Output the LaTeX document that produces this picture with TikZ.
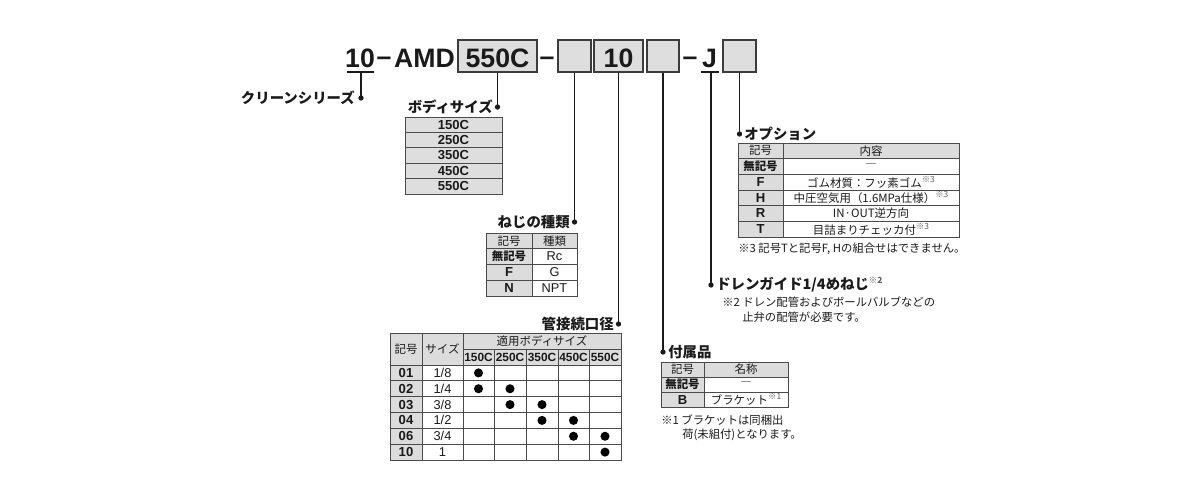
\documentclass[tikz,border=0pt]{standalone}
\usepackage{fontspec}
\setmainfont{Liberation Sans}
\newfontfamily\jp{Noto Sans CJK JP}
\definecolor{boxfill}{HTML}{DEDEDE}
\definecolor{hdr}{HTML}{DCDCDC}
\definecolor{grid}{HTML}{4A4A4A}
\definecolor{ink}{HTML}{1A1A1A}
\definecolor{supc}{HTML}{606060}
\tikzset{
  big/.style={font=\fontsize{20}{20}\selectfont\bfseries, inner sep=0pt, text=ink},
  codebox/.style={draw=ink!85, fill=boxfill, line width=0.9pt, minimum height=24pt, inner sep=0pt},
  lead/.style={draw=ink, line width=0.9pt},
  leaddot/.style={circle, fill=ink, inner sep=0pt, minimum size=4pt},
  lbl/.style={font=\jp\bfseries\fontsize{10.8}{12}\selectfont, inner sep=0pt, text=ink},
  cj/.style={font=\jp\fontsize{8.6}{10}\selectfont, inner sep=0pt, text=ink},
  cjb/.style={font=\jp\bfseries\fontsize{8.6}{10}\selectfont, inner sep=0pt, text=ink},
  lb/.style={font=\bfseries\fontsize{9.8}{10}\selectfont, inner sep=0pt, text=ink},
  lr/.style={font=\fontsize{9.6}{10}\selectfont, inner sep=0pt, text=ink},
  note/.style={font=\jp\fontsize{8.5}{11}\selectfont, inner sep=0pt, text=ink},
  tbl/.style={draw=grid, line width=0.6pt},
  bul/.style={circle, fill=black, inner sep=0pt, minimum size=6.8pt},
}
\newcommand{\supn}[1]{\raisebox{0.42em}{\fontsize{6.3}{6}\selectfont\color{supc}#1}}
\newcommand{\nodash}{\raisebox{-0.25em}{―}}
\begin{document}
\begin{tikzpicture}[x=0.75pt,y=-0.75pt]
\useasboundingbox (0,0) rectangle (1198,500);

% ---------- model code line ----------
\node[big, anchor=base] (t10) at (360,67) {10};
\node[big, anchor=base] (d1) at (384,65) {–};
\node[big, anchor=base] (tamd) at (424.5,67) {AMD};
\node[codebox, minimum width=59.25pt] (b550) at (497.5,56) {};
\node[big, anchor=base] at (497.5,67) {550C};
\node[big, anchor=base] (d2) at (547,65) {–};
\node[codebox, minimum width=24.75pt] (b1) at (574.5,56) {};
\node[codebox, minimum width=36.75pt] (b10) at (618.5,56) {};
\node[big, anchor=base] at (618.5,67) {10};
\node[codebox, minimum width=24pt] (b3) at (663,56) {};
\node[big, anchor=base] (d3) at (690,65) {–};
\node[big, anchor=base] (tj) at (709.5,67) {J};
\node[codebox, minimum width=24.75pt] (b4) at (739.5,56) {};

\coordinate (u10) at (361,72);
\coordinate (uj) at (711,72);
\draw[lead] (347,72) -- (374,72);
\draw[lead] (701,72) -- (719,72);

% ---------- leader dots ----------
\node[leaddot] (kclean) at (361,98) {};
\node[leaddot] (kbody) at (497.5,107) {};
\node[leaddot] (kscrew) at (574.5,222) {};
\node[leaddot] (kpipe) at (618.5,324) {};
\node[leaddot] (kacc) at (663,352) {};
\node[leaddot] (kdrain) at (711,285) {};
\node[leaddot] (kopt) at (739.5,134) {};

\draw[lead] (u10) -- (kclean.center);
\draw[lead] (b550.south) -- (kbody.center);
\draw[lead] (b1.south) -- (kscrew.center);
\draw[lead] (b10.south) -- (kpipe.center);
\draw[lead] (b3.south) -- (kacc.center);
\draw[lead] (uj) -- (kdrain.center);
\draw[lead] (b4.south) -- (kopt.center);

% ---------- labels ----------
\node[lbl, anchor=east] (lclean) at (355,98) {クリーンシリーズ};
\node[lbl, anchor=east] (lbody) at (493,107) {ボディサイズ};
\node[lbl, anchor=east] (lscrew) at (570,222) {ねじの種類};
\node[lbl, anchor=east] (lpipe) at (614,324) {管接続口径};
\node[lbl, anchor=west] (lacc) at (668,352) {付属品};
\node[lbl, anchor=west] (ldrain) at (716,285) {ドレンガイド1/4めねじ\supn{※2}};
\node[lbl, anchor=west] (lopt) at (744,134) {オプション};

% ---------- body size table ----------
\foreach \t [count=\i from 0] in {150C,250C,350C,450C,550C}{
  \pgfmathsetmacro\ya{117+15.4*\i}
  \pgfmathsetmacro\yb{\ya+15.4}
  \filldraw[tbl, fill=boxfill] (405,\ya) rectangle (502,\yb);
  \node[lb] (bs\i) at (453.5,{(\ya+\yb)/2}) {\t};
}

% ---------- screw type table ----------
\fill[hdr] (486,233) rectangle (577,248.75);
\fill[hdr] (486,248.75) rectangle (532,296);
\draw[tbl] (486,233) rectangle (577,296);
\draw[tbl] (532,233) -- (532,296);
\foreach \y in {248.75,264.5,280.25}{\draw[tbl] (486,\y) -- (577,\y);}
\node[cj] (s00) at (509,240.9) {記号};
\node[cj] (s01) at (554.5,240.9) {種類};
\node[cjb] (s10) at (509,256.6) {無記号};
\node[lr] (s11) at (554.5,256.6) {Rc};
\node[lb] (s20) at (509,272.4) {F};
\node[lr] (s21) at (554.5,272.4) {G};
\node[lb] (s30) at (509,288.1) {N};
\node[lr] (s31) at (554.5,288.1) {NPT};

% ---------- pipe size table ----------
\fill[hdr] (390,333) rectangle (621,365);
\fill[hdr] (390,365) rectangle (422,460);
\draw[tbl] (390,333) rectangle (621,460);
\draw[tbl] (422,333) -- (422,460);
\draw[tbl] (463,333) -- (463,460);
\foreach \x in {494,526,558,589}{\draw[tbl] (\x,349) -- (\x,460);}
\draw[tbl] (463,349) -- (621,349);
\foreach \y in {365,380.83,396.67,412.5,428.33,444.17}{\draw[tbl] (390,\y) -- (621,\y);}
\node[cj] (p00) at (406,349) {記号};
\node[cj] (p01) at (442.5,349) {サイズ};
\node[cj] (p02) at (542,341) {適用ボディサイズ};
\foreach \t/\x [count=\i] in {150C/478.5,250C/510,350C/542,450C/573.5,550C/605}{
  \node[lb, font=\bfseries\fontsize{8.9}{10}\selectfont] (ph\i) at (\x,357) {\t};
}
\foreach \c/\s/\y [count=\i] in {01/1\slash 8/372.9,02/1\slash 4/388.75,03/3\slash 8/404.6,04/1\slash 2/420.4,06/3\slash 4/436.25,10/1/452.1}{
  \node[lb] (pc\i) at (406,\y) {\c};
  \node[lr] (ps\i) at (442.5,\y) {\s};
}
\foreach \x/\y [count=\i] in {478.5/372.9, 478.5/388.75, 510/388.75, 510/404.6, 542/404.6, 542/420.4, 573.5/420.4, 573.5/436.25, 605/436.25, 605/452.1}{
  \node[bul] (pd\i) at (\x,\y) {};
}

% ---------- accessory table ----------
\fill[hdr] (661,362) rectangle (788,377);
\fill[hdr] (661,377) rectangle (704,407);
\draw[tbl] (661,362) rectangle (788,407);
\draw[tbl] (704,362) -- (704,407);
\foreach \y in {377,392}{\draw[tbl] (661,\y) -- (788,\y);}
\node[cj] (a00) at (682.5,369.5) {記号};
\node[cj] (a01) at (746,369.5) {名称};
\node[cjb] (a10) at (682.5,384.5) {無記号};
\node[cj] (a11) at (746,384.5) {\nodash};
\node[lb] (a20) at (682.5,399.5) {B};
\node[cj] (a21) at (746,399.5) {ブラケット\supn{※1}};
\node[note, anchor=west] (an1) at (661,420) {※1 ブラケットは同梱出};
\node[note, anchor=west] (an2) at (682,435) {荷(未組付)となります。};

% ---------- drain note ----------
\node[note, anchor=west] (dn1) at (722,302) {※2 ドレン配管およびボールバルブなどの};
\node[note, anchor=west] (dn2) at (742,317) {止弁の配管が必要です。};

% ---------- option table ----------
\fill[hdr] (738,143) rectangle (959,158.67);
\fill[hdr] (738,158.67) rectangle (783,237);
\draw[tbl] (738,143) rectangle (959,237);
\draw[tbl] (783,143) -- (783,237);
\foreach \y in {158.67,174.33,190,205.67,221.33}{\draw[tbl] (738,\y) -- (959,\y);}
\node[cj] (o00) at (760.5,150.8) {記号};
\node[cj] (o01) at (871,150.8) {内容};
\node[cjb] (o10) at (760.5,166.5) {無記号};
\node[cj] (o11) at (871,166.5) {\nodash};
\node[lb] (o20) at (760.5,182.2) {F};
\node[cj] (o21) at (871,182.2) {ゴム材質：フッ素ゴム\supn{※3}};
\node[lb] (o30) at (760.5,197.8) {H};
\node[cj] (o31) at (871,197.8) {中圧空気用（1.6MPa仕様）\supn{※3}};
\node[lb] (o40) at (760.5,213.5) {R};
\node[cj] (o41) at (871,213.5) {IN·OUT逆方向};
\node[lb] (o50) at (760.5,229.2) {T};
\node[cj] (o51) at (871,229.2) {目詰まりチェッカ付\supn{※3}};
\node[note, anchor=west] (on1) at (738,249) {※3 記号Tと記号F, Hの組合せはできません。};

\end{tikzpicture}
\end{document}
